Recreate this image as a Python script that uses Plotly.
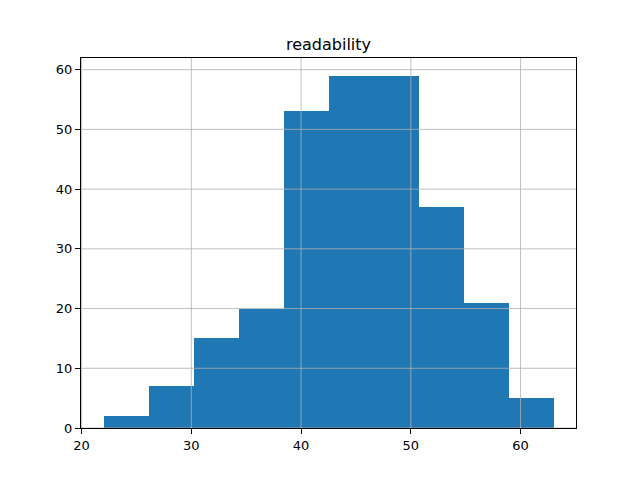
import plotly.graph_objects as go

# Data (10 equal bins from 22 to 63)
bin_min = 22.0
bin_max = 63.0
counts = [2, 7, 15, 20, 53, 59, 59, 37, 21, 5]
x_ticks = [20, 30, 40, 50, 60]
y_ticks = [0, 10, 20, 30, 40, 50, 60]

n = len(counts)
w = (bin_max - bin_min) / n
centers = [bin_min + w * (i + 0.5) for i in range(n)]

xpad = (bin_max - bin_min) * 0.05
xr = [bin_min - xpad, bin_max + xpad]
yr = [0, max(counts) * 1.05]

fig = go.Figure()
fig.add_trace(go.Bar(x=centers, y=counts, width=[w] * n,
                     marker=dict(color="#1f77b4", line=dict(width=0))))

shapes = []
for t in x_ticks:
    if xr[0] <= t <= xr[1]:
        shapes.append(dict(type="line", xref="x", yref="paper", x0=t, x1=t, y0=0, y1=1,
                           line=dict(color="#b0b0b0", width=0.8), layer="above"))
for t in y_ticks:
    if yr[0] <= t <= yr[1]:
        shapes.append(dict(type="line", xref="paper", yref="y", x0=0, x1=1, y0=t, y1=t,
                           line=dict(color="#b0b0b0", width=0.8), layer="above"))

fig.update_layout(
    width=640, height=480,
    margin=dict(l=81, r=64, t=58, b=52),
    paper_bgcolor="white", plot_bgcolor="white",
    font=dict(family="DejaVu Sans", size=13, color="black"),
    title=dict(text="readability", x=0.5, xref="paper", xanchor="center",
               y=1 - 44 / 480, yanchor="middle", font=dict(size=16)),
    showlegend=False,
    shapes=shapes,
    bargap=0,
)
fig.update_xaxes(range=xr, tickvals=x_ticks, ticktext=[str(t) for t in x_ticks],
                 showgrid=False, zeroline=False, showline=True, mirror=True,
                 linecolor="black", linewidth=1, ticks="outside", ticklen=5,
                 tickcolor="black", layer="above traces")
fig.update_yaxes(range=yr, tickvals=y_ticks, ticktext=[str(t) for t in y_ticks],
                 showgrid=False, zeroline=False, showline=True, mirror=True,
                 linecolor="black", linewidth=1, ticks="outside", ticklen=5,
                 tickcolor="black", layer="above traces")

fig.write_html("out.html")
